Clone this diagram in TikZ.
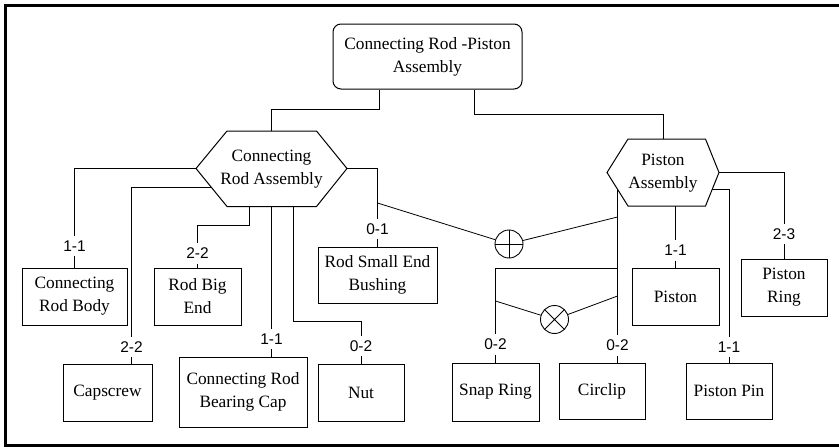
\documentclass[tikz,border=0pt]{standalone}
\usepackage{fontspec}
\setmainfont{Liberation Serif}
\newfontfamily\labelsans{Liberation Sans}
\newcommand\partfont{\fontsize{17.3}{23}\selectfont}
\newcommand\cardfont{\labelsans\fontsize{15.5}{18}\selectfont}
\begin{document}
\begin{tikzpicture}[x=1pt,y=-1pt,
  part/.style={draw, line width=1pt, inner sep=0pt, align=center, font=\partfont},
  hextext/.style={inner sep=0pt, align=center, font=\partfont},
  hexline/.style={line width=1pt, line join=miter},
  card/.style={inner xsep=2pt, inner ysep=4.5pt, font=\cardfont},
  wire/.style={line width=0.8pt},
  gate/.style={draw, circle, line width=0.9pt, minimum size=28pt, inner sep=0pt},
  orgate/.style={gate, path picture={
      \draw[line width=0.9pt] (path picture bounding box.north) -- (path picture bounding box.south)
        (path picture bounding box.west) -- (path picture bounding box.east);}},
  xorgate/.style={gate, path picture={
      \draw[line width=0.9pt] (path picture bounding box.north west) -- (path picture bounding box.south east)
        (path picture bounding box.south west) -- (path picture bounding box.north east);}}
]
\useasboundingbox (0,0) rectangle (839,447);

% outer frame (open on the right)
\draw[line width=2.3pt] (845,5.5) -- (5.5,5.5) -- (5.5,445.5) -- (845,445.5);

% top assembly
\node[part, rounded corners=8pt, minimum width=189pt, minimum height=65pt] (top) at (427.5,56.5)
  {Connecting Rod -Piston\\Assembly};

% sub-assembly hexagons
\draw[hexline] (196,168.5) -- (227,131) -- (316.5,131) -- (347,168.5) -- (316.5,206.5) -- (227,206.5) -- cycle;
\node[hextext] (cra) at (271.5,169) {Connecting\\Rod Assembly};
\draw[hexline] (607,172.5) -- (628,139) -- (705.5,139) -- (719,172.5) -- (705.5,206) -- (628,206) -- cycle;
\node[hextext] (pa) at (663,173) {Piston\\Assembly};

% attachment points on the hexagons
\coordinate (craTop) at (271.5,131);
\coordinate (paTop) at (663,139);
\coordinate (craW) at (196,168.5);
\coordinate (craE) at (347,168.5);
\coordinate (craSW) at (211.5,187.5);
\coordinate (craB1) at (249,206.5);
\coordinate (craB2) at (271.5,206.5);
\coordinate (craB3) at (293,206.5);
\coordinate (paSW) at (617.5,189.3);
\coordinate (paB) at (675.5,206);
\coordinate (paSE) at (712.2,189.3);
\coordinate (paE) at (719,172.5);

\draw[wire] ([xshift=-48.5pt]top.south) -- ++(0,20) -| (craTop);
\draw[wire] ([xshift=46.5pt]top.south) -- ++(0,25) -| (paTop);

% connecting rod parts
\node[part, minimum width=105pt, minimum height=57pt] (body) at (74.5,296.5) {Connecting\\Rod Body};
\node[card] (m1) at (74.5,246) {1-1};
\draw[wire] (craW) -| (m1);
\draw[wire] (m1) -- (body);

\node[part, minimum width=89pt, minimum height=57pt] (capscrew) at (107.5,392.5) {Capscrew};
\node[card] (m2) at (131.5,347) {2-2};
\draw[wire] (craSW) -| (m2);
\draw[wire] (m2) -- (m2 |- capscrew.north);

\node[part, minimum width=87pt, minimum height=57pt] (bigend) at (197.5,296.5) {Rod Big\\End};
\node[card] (m3) at (197.5,253.5) {2-2};
\draw[wire] (craB1) -- ++(0,19) -| (m3);
\draw[wire] (m3) -- (bigend);

\node[part, minimum width=128pt, minimum height=70pt] (bcap) at (243,392) {Connecting Rod\\Bearing Cap};
\node[card] (m4) at (271.5,339) {1-1};
\draw[wire] (craB2) -- (m4);
\draw[wire] (m4) -- (m4 |- bcap.north);

\node[part, minimum width=86pt, minimum height=57pt] (nut) at (361,392.5) {Nut};
\node[card] (m5) at (361,346) {0-2};
\draw[wire] (craB3) -- ++(0,114.5) -| (m5);
\draw[wire] (m5) -- (nut);

\node[part, minimum width=119pt, minimum height=56pt] (bush) at (377.5,275) {Rod Small End\\Bushing};
\node[card] (m6) at (377.5,228.7) {0-1};
\draw[wire] (craE) -| (m6);
\draw[wire] (m6) -- (bush);

% piston parts
\node[part, minimum width=86pt, minimum height=56pt] (circlip) at (602,391) {Circlip};
\node[card] (m7) at (617.5,345.5) {0-2};
\draw[wire] (paSW) -- (m7);
\draw[wire] (m7) -- (m7 |- circlip.north);

\node[part, minimum width=87pt, minimum height=58pt] (snap) at (495.5,392) {Snap Ring};
\node[card] (m8) at (495.5,344.5) {0-2};
\coordinate (j3) at (617.5,268);
\draw[wire] (j3) -| (m8);
\draw[wire] (m8) -- (snap);

\node[part, minimum width=87pt, minimum height=57pt] (piston) at (675.5,296.5) {Piston};
\node[card] (m9) at (675.5,250.5) {1-1};
\draw[wire] (paB) -- (m9);
\draw[wire] (m9) -- (piston);

\node[part, minimum width=86pt, minimum height=56pt] (pin) at (729,391) {Piston Pin};
\node[card] (m10) at (729,347) {1-1};
\draw[wire] (paSE) -| (m10);
\draw[wire] (m10) -- (pin);

\node[part, minimum width=86pt, minimum height=57pt] (ring) at (784,287.5) {Piston\\Ring};
\node[card] (m11) at (784,233.8) {2-3};
\draw[wire] (paE) -| (m11);
\draw[wire] (m11) -- (ring);

% constraint gates
\node[orgate] (or) at (509,244) {};
\coordinate (j1) at (377.5,203);
\coordinate (j2) at (617.5,217);
\draw[wire] (j1) -- (or) -- (j2);

\node[xorgate] (xor) at (554.5,319.5) {};
\coordinate (j4) at (495.5,301);
\coordinate (j5) at (617.5,296);
\draw[wire] (j4) -- (xor) -- (j5);
\end{tikzpicture}
\end{document}
